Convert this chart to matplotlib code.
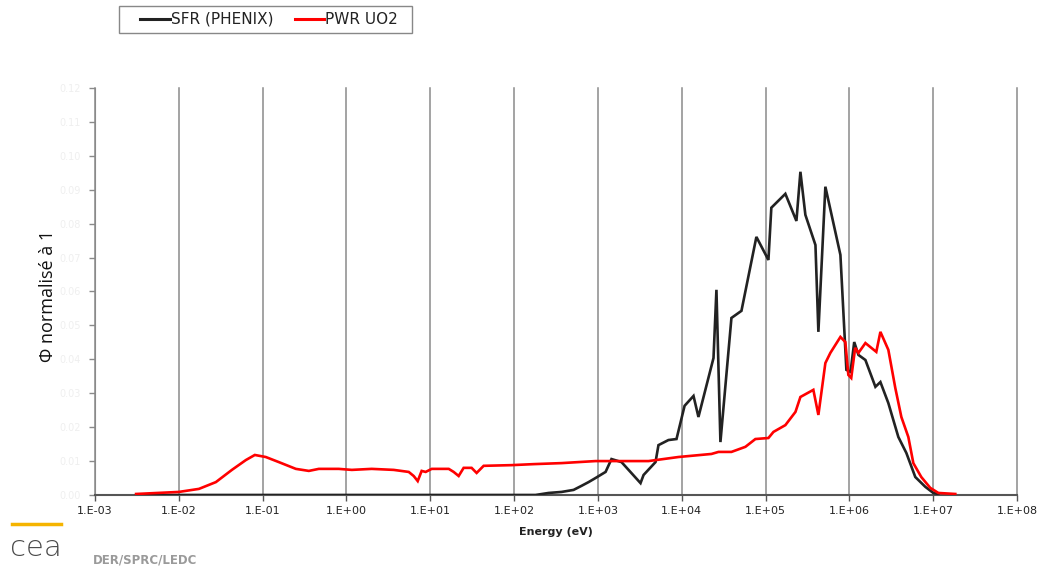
import math
import matplotlib
matplotlib.use("Agg")
import matplotlib.pyplot as plt
from matplotlib.lines import Line2D
from matplotlib.patches import Rectangle
from matplotlib.ticker import FixedLocator, FuncFormatter, NullLocator

# Neutron flux spectra, normalised to 1 (energy in eV)
pwr_energy = [3.1e-3, 1.0e-2, 1.74e-2, 2.77e-2, 4.30e-2, 6.31e-2, 8.07e-2, 0.109, 0.156,
              0.249, 0.356, 0.468, 0.81, 1.16, 2.0, 3.66, 5.53, 6.34, 7.08, 7.89, 8.81,
              10.4, 16.6, 19.0, 21.8, 25.0, 31.1, 35.7, 43.3, 93, 171, 368, 935, 1450,
              4010, 9140, 22600, 27400, 39100, 57400, 75500, 1.08e5, 1.24e5, 1.72e5,
              2.27e5, 2.60e5, 3.71e5, 4.26e5, 5.16e5, 5.92e5, 7.80e5, 8.93e5, 9.70e5,
              1.05e6, 1.17e6, 1.28e6, 1.55e6, 2.09e6, 2.34e6, 2.91e6, 3.52e6, 4.16e6,
              5.04e6, 5.78e6, 7.19e6, 9.2e6, 1.15e7, 1.83e7]
pwr_flux = [0.0003, 0.0009, 0.0018, 0.0038, 0.0074, 0.0103, 0.0118, 0.0112, 0.0097,
            0.0077, 0.0071, 0.0077, 0.0077, 0.0074, 0.0077, 0.0074, 0.0068, 0.0056,
            0.0041, 0.0071, 0.0068, 0.0077, 0.0077, 0.0068, 0.0056, 0.0080, 0.0080,
            0.0065, 0.0086, 0.0088, 0.0091, 0.0094, 0.0100, 0.0100, 0.0100, 0.0112,
            0.0121, 0.0127, 0.0127, 0.0142, 0.0165, 0.0168, 0.0186, 0.0206, 0.0245,
            0.0289, 0.0310, 0.0236, 0.0389, 0.0419, 0.0466, 0.0451, 0.0354, 0.0345,
            0.0434, 0.0419, 0.0448, 0.0422, 0.0481, 0.0428, 0.0316, 0.0230, 0.0171,
            0.0094, 0.0053, 0.0021, 0.0006, 0.0003]

sfr_energy = [3.1e-3, 180, 258, 368, 512, 637, 773, 935, 1233, 1450, 1910, 3220, 3500,
              4860, 5270, 6930, 8650, 10800, 13800, 15800, 23900, 25900, 28900, 39100,
              51500, 77600, 1.08e5, 1.17e5, 1.72e5, 2.33e5, 2.60e5, 2.98e5, 3.93e5,
              4.26e5, 5.16e5, 7.80e5, 9.19e5, 1.03e6, 1.14e6, 1.28e6, 1.55e6, 2.04e6,
              2.34e6, 2.91e6, 3.83e6, 4.77e6, 6.10e6, 8.04e6, 1.0e7, 1.15e7]
sfr_flux = [0.0, 0.0, 0.0006, 0.0009, 0.0015, 0.0027, 0.0038, 0.0050, 0.0068, 0.0106,
            0.0097, 0.0035, 0.0059, 0.0097, 0.0147, 0.0162, 0.0165, 0.0263, 0.0292,
            0.0230, 0.0404, 0.0605, 0.0156, 0.0522, 0.0543, 0.0761, 0.0693, 0.0847,
            0.0888, 0.0808, 0.0953, 0.0826, 0.0737, 0.0481, 0.0909, 0.0708, 0.0369,
            0.0363, 0.0451, 0.0413, 0.0398, 0.0319, 0.0333, 0.0271, 0.0171, 0.0124,
            0.0053, 0.0024, 0.0006, 0.0003]

decades = list(range(-3, 9))
y_ticks = [i / 100 for i in range(0, 13)]
series_labels = ["SFR (PHENIX)", "PWR UO2"]
series_colors = ["#222222", "#ff0000"]

W, H = 1040, 570
fig = plt.figure(figsize=(W / 100, H / 100), dpi=100)
ax = fig.add_axes([0.0913, 0.1316, 0.8867, 0.714])

ax.plot(sfr_energy, sfr_flux, color=series_colors[0], lw=1.9, solid_joinstyle="miter", zorder=3)
ax.plot(pwr_energy, pwr_flux, color=series_colors[1], lw=1.9, solid_joinstyle="miter", zorder=4)

ax.set_xscale("log")
ax.set_xlim(1e-3, 1e8)
ax.set_ylim(0, 0.12)

ax.xaxis.set_major_locator(FixedLocator([10.0 ** d for d in decades]))
ax.xaxis.set_minor_locator(NullLocator())
ax.xaxis.set_major_formatter(FuncFormatter(lambda v, p: "1.E%+03d" % round(math.log10(v))))
ax.yaxis.set_major_locator(FixedLocator(y_ticks))
ax.yaxis.set_major_formatter(FuncFormatter(lambda v, p: "%.2f" % v))

for d in decades:
    ax.axvline(10.0 ** d, color="#8a8a8a", lw=1.1, zorder=1, clip_on=False)

for s in ("top", "right"):
    ax.spines[s].set_visible(False)
ax.spines["left"].set_color("#8a8a8a")
ax.spines["bottom"].set_color("#555555")
ax.spines["bottom"].set_linewidth(1.5)

ax.tick_params(axis="x", length=4, width=1, color="#555555", labelsize=8,
               labelcolor="#222222", pad=4)
ax.tick_params(axis="y", length=4, width=1, color="#8a8a8a", labelsize=7,
               labelcolor="#efefef", pad=6)

ax.set_xlabel("Energy (eV)", fontsize=8, fontweight="bold", color="#222222", labelpad=8)
ax.set_ylabel("Φ normalisé à 1", fontsize=13, family="Open Sans", color="#111111")
ax.yaxis.set_label_coords(-0.041, 0.49)


def px(x, y):
    """Pixel position (from top-left) to figure fraction."""
    return x / W, 1 - y / H


# Legend box laid out in figure pixels
x0, y0 = px(119, 33)
x1, y1 = px(412, 6)
fig.add_artist(Rectangle((x0, y0), x1 - x0, y1 - y0, transform=fig.transFigure,
                         facecolor="white", edgecolor="#888888", lw=1.0))
legend_slots = [(140, 171), (295, 325)]
for (lx, tx), label, color in zip(legend_slots, series_labels, series_colors):
    ya = px(0, 19)[1]
    fig.add_artist(Line2D([lx / W, (tx - 1) / W], [ya, ya], color=color, lw=2.2))
    fig.text(tx / W, ya, label, fontsize=11, color="#222222", va="center", ha="left")

# Footer: logo mark and lab reference
fig.add_artist(Line2D([0.012, 0.059], [0.081, 0.081], color="#f5b400", lw=2.5))
fig.text(0.010, 0.024, "cea", fontsize=21, family="DejaVu Sans", fontweight="light",
         color="#4a4a4a")
fig.text(0.089, 0.012, "DER/SPRC/LEDC", fontsize=8.5, fontweight="bold", color="#9a9a9a")

fig.savefig("out.png", dpi=100, facecolor="white")
